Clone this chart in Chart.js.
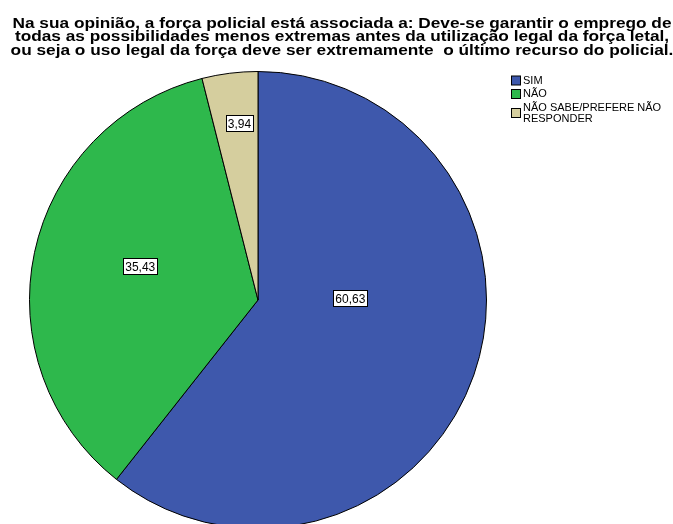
<!DOCTYPE html>
<html lang="pt">
<head>
<meta charset="UTF-8">
<title>Força policial</title>
<script src="https://cdn.jsdelivr.net/npm/chart.js"></script>
<style>
  body { margin: 0; background: #fff; overflow: hidden; }
  #grafico { display: block; }
</style>
</head>
<body>
<canvas id="grafico" width="673" height="540"></canvas>
<script>
// dados
var categorias = ['SIM', 'NÃO', 'NÃO SABE/PREFERE NÃO RESPONDER'];
var legendaLinhas = [['SIM'], ['NÃO'], ['NÃO SABE/PREFERE NÃO', 'RESPONDER']];
var percentuais = [60.63, 35.43, 3.94];
var rotulos = ['60,63', '35,43', '3,94'];
var titulo = [
  'Na sua opinião, a força policial está associada a: Deve-se garantir o emprego de',
  'todas as possibilidades menos extremas antes da utilização legal da força letal,',
  'ou seja o uso legal da força deve ser extremamente  o último recurso do policial.'
];

var cores = ['#3e58ac', '#2eb84c', '#d5ce9e'];
// onde fica cada rótulo: [angulo a partir do topo em graus, fração do raio]
var posRotulo = [[89, 0.404], [286, 0.536], [354, 0.777]];

var pluginTitulo = {
  id: 'tituloSpss',
  afterDraw: function (chart) {
    var ctx = chart.ctx;
    ctx.save();
    ctx.fillStyle = '#000';
    ctx.font = 'bold 15px "Liberation Sans", Arial, sans-serif';
    // o título do original é mais largo que a fonte: estica na horizontal
    var escala = 659 / ctx.measureText(titulo[0]).width;
    ctx.translate(342, 0);
    ctx.scale(escala, 1);
    ctx.textAlign = 'center';
    ctx.textBaseline = 'alphabetic';
    titulo.forEach(function (t, i) {
      ctx.fillText(t, 0, 27.5 + i * 13.5);
    });
    ctx.restore();
  }
};

var pluginLegenda = {
  id: 'legendaSpss',
  afterDraw: function (chart) {
    var ctx = chart.ctx;
    ctx.save();
    ctx.font = '11px "Liberation Sans", Arial, sans-serif';
    ctx.textBaseline = 'middle';
    var y = 80.5;
    legendaLinhas.forEach(function (linhas, i) {
      var alturaBloco = linhas.length * 11;
      var cy = y + (alturaBloco - 11) / 2;
      ctx.fillStyle = cores[i];
      ctx.fillRect(511.5, cy - 4.5, 9, 9);
      ctx.strokeStyle = '#000';
      ctx.lineWidth = 1;
      ctx.strokeRect(511.5, cy - 4.5, 9, 9);
      ctx.fillStyle = '#000';
      linhas.forEach(function (l, j) {
        ctx.fillText(l, 523, y + j * 11);
      });
      y += alturaBloco + 2.5;
    });
    ctx.restore();
  }
};

var pluginRotulos = {
  id: 'rotulosSpss',
  afterDatasetsDraw: function (chart) {
    var ctx = chart.ctx;
    var meta = chart.getDatasetMeta(0);
    ctx.save();
    ctx.font = '12px "Liberation Sans", Arial, sans-serif';
    ctx.textAlign = 'center';
    ctx.textBaseline = 'middle';
    meta.data.forEach(function (arc, i) {
      var a = posRotulo[i][0] * Math.PI / 180;
      var r = arc.outerRadius * posRotulo[i][1];
      var x = arc.x + Math.sin(a) * r;
      var y = arc.y - Math.cos(a) * r;
      var w = Math.round(ctx.measureText(rotulos[i]).width + 4);
      var h = 16;
      var bx = Math.round(x - w / 2) + 0.5;
      var by = Math.round(y - h / 2) + 0.5;
      ctx.fillStyle = '#fff';
      ctx.fillRect(bx, by, w, h);
      ctx.strokeStyle = '#000';
      ctx.lineWidth = 1;
      ctx.strokeRect(bx, by, w, h);
      ctx.fillStyle = '#000';
      ctx.fillText(rotulos[i], x, y + 1);
    });
    ctx.restore();
  }
};

new Chart(document.getElementById('grafico'), {
  type: 'pie',
  data: {
    labels: categorias,
    datasets: [{
      data: percentuais,
      backgroundColor: cores,
      borderColor: '#000',
      borderWidth: 1
    }]
  },
  options: {
    responsive: false,
    animation: false,
    layout: { padding: { left: 29, right: 186, top: 71, bottom: 11 } },
    plugins: {
      legend: { display: false },
      tooltip: { enabled: false },
      title: { display: false }
    }
  },
  plugins: [pluginRotulos, pluginTitulo, pluginLegenda]
});
</script>
</body>
</html>
